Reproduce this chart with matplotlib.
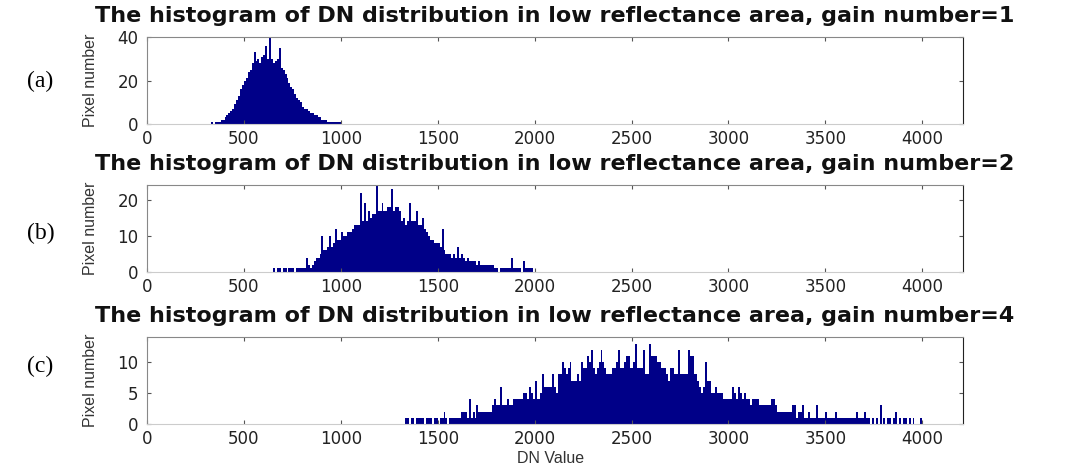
import numpy as np
import matplotlib
matplotlib.use('Agg')
import matplotlib.pyplot as plt

# histogram counts per 10-DN bin
bin_width = 10

a_start = 330
a_counts = [1, 0, 1, 1, 1, 2, 2, 3, 4, 5,
            6, 7, 9, 11, 13, 16, 18, 20, 21, 24,
            25, 28, 33, 29, 30, 28, 31, 32, 36, 30,
            40, 30, 28, 29, 30, 35, 26, 25, 23, 21,
            19, 17, 16, 14, 12, 11, 10, 8, 7, 7,
            6, 5, 5, 4, 4, 3, 3, 2, 2, 2,
            1, 1, 1, 1, 1, 1, 1]

b_start = 650
b_counts = [1, 0, 1, 1, 0, 1, 1, 0, 1, 1,
            1, 0, 1, 1, 1, 1, 1, 4, 2, 1,
            2, 3, 4, 4, 5, 10, 6, 6, 7, 10,
            7, 8, 12, 9, 9, 11, 10, 10, 11, 11,
            11, 12, 13, 13, 13, 22, 14, 19, 14, 17,
            15, 16, 16, 24, 17, 17, 19, 17, 17, 18,
            18, 23, 17, 18, 18, 17, 14, 15, 13, 14,
            19, 14, 14, 14, 17, 13, 13, 15, 12, 11,
            10, 9, 9, 8, 8, 8, 7, 12, 6, 5,
            5, 5, 4, 5, 4, 7, 4, 5, 4, 3,
            4, 3, 3, 3, 3, 2, 3, 2, 2, 2,
            2, 2, 2, 2, 1, 1, 0, 1, 1, 1,
            1, 1, 1, 4, 1, 1, 1, 1, 0, 3,
            1, 1, 1, 1, 0]

c_start = 1330
c_counts = [1, 1, 0, 1, 1, 0, 1, 1, 1, 1,
            0, 1, 1, 1, 0, 1, 1, 0, 1, 1,
            2, 1, 0, 1, 1, 1, 1, 1, 1, 2,
            2, 2, 1, 4, 1, 2, 1, 3, 2, 2,
            2, 2, 2, 2, 2, 3, 4, 3, 3, 6,
            3, 3, 3, 4, 3, 3, 4, 4, 4, 4,
            4, 5, 5, 4, 6, 5, 4, 7, 4, 4,
            5, 8, 6, 6, 6, 6, 8, 6, 5, 8,
            8, 10, 9, 8, 9, 10, 7, 7, 7, 8,
            7, 10, 9, 9, 11, 10, 12, 9, 8, 9,
            10, 12, 10, 9, 8, 8, 8, 9, 9, 10,
            12, 9, 9, 10, 11, 11, 9, 9, 10, 13,
            9, 9, 9, 12, 8, 8, 13, 11, 11, 11,
            10, 10, 9, 9, 9, 8, 7, 9, 9, 8,
            8, 12, 8, 8, 8, 8, 12, 11, 11, 8,
            8, 7, 6, 5, 6, 10, 7, 7, 5, 5,
            6, 5, 5, 5, 4, 4, 4, 4, 4, 6,
            5, 4, 6, 5, 4, 5, 4, 4, 3, 4,
            4, 4, 4, 3, 3, 3, 3, 3, 3, 4,
            4, 3, 2, 2, 2, 2, 2, 2, 2, 2,
            3, 3, 1, 2, 2, 3, 1, 1, 2, 1,
            1, 1, 3, 1, 1, 1, 1, 2, 1, 1,
            1, 1, 2, 1, 1, 1, 1, 1, 1, 1,
            1, 1, 1, 2, 1, 1, 1, 2, 1, 1,
            0, 1, 0, 1, 0, 3, 0, 1, 0, 1,
            1, 0, 1, 2, 0, 1, 0, 1, 1, 0,
            1, 0, 1, 0, 0, 0, 1]

gains = [1, 2, 4]
panel_tags = ['(a)', '(b)', '(c)']
y_limits = [40, 24, 14]
y_ticks = [[0, 20, 40], [0, 10, 20], [0, 5, 10]]
x_ticks = [0, 500, 1000, 1500, 2000, 2500, 3000, 3500, 4000]

panels = [(a_start, a_counts), (b_start, b_counts), (c_start, c_counts)]

fig = plt.figure(figsize=(10.77, 4.66), dpi=100)

left, width, height = 0.1365, 0.7576, 0.1860
bottoms = [0.7340, 0.4163, 0.0901]
tag_y = [0.826, 0.500, 0.213]

bar_color = '#000088'
narrow = ['Liberation Sans Narrow', 'DejaVu Sans Condensed', 'Liberation Sans']

for i, (start, counts) in enumerate(panels):
    ax = fig.add_axes([left, bottoms[i], width, height])
    edges = start + bin_width * np.arange(len(counts))
    ax.bar(edges, counts, width=bin_width, align='edge', color=bar_color, linewidth=0)
    ax.set_xlim(0, 4210)
    ax.set_ylim(0, y_limits[i])
    ax.set_xticks(x_ticks)
    ax.set_yticks(y_ticks[i])
    ax.tick_params(direction='in', length=3, width=0.8, color='#555555',
                   top=True, right=True, labelsize=12, pad=6, labelcolor='#222222')
    ax.tick_params(axis='x', pad=4)
    for side in ['left', 'top']:
        ax.spines[side].set_color('#888888')
    ax.spines['right'].set_color('#222222')
    ax.spines['bottom'].set_color('#cccccc')
    ax.set_ylabel('Pixel number', family=narrow, fontsize=11.5, color='#333333')
    ax.yaxis.set_label_coords(-0.06, 0.5)
    ax.set_title('The histogram of DN distribution in low reflectance area, gain number=%d' % gains[i],
                 fontweight='bold', fontsize=16, pad=11, color='#111111')
    fig.text(0.025, tag_y[i], panel_tags[i], family='Liberation Serif', fontsize=17,
             va='center', ha='left')
    if i == 2:
        ax.set_xlabel('DN Value', family='Liberation Sans', fontsize=11.5, color='#333333')
        ax.xaxis.set_label_coords(0.494, -0.31)

fig.savefig('out.png', dpi=100)
